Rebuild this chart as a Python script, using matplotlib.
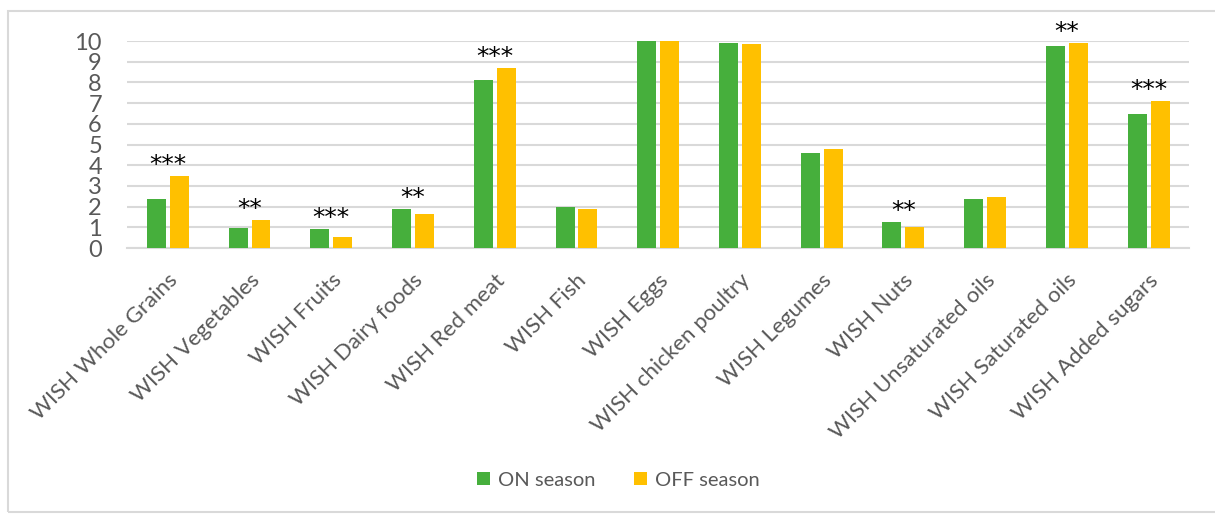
import numpy as np
import matplotlib.pyplot as plt
from matplotlib.patches import Rectangle

categories = ["WISH Whole Grains", "WISH Vegetables", "WISH Fruits", "WISH Dairy foods",
              "WISH Red meat", "WISH Fish", "WISH Eggs", "WISH chicken poultry",
              "WISH Legumes", "WISH Nuts", "WISH Unsaturated oils",
              "WISH Saturated oils", "WISH Added sugars"]
on_season = [2.38, 0.96, 0.93, 1.89, 8.14, 2.0, 9.98, 9.9, 4.57, 1.27, 2.39, 9.74, 6.48]
off_season = [3.48, 1.36, 0.51, 1.65, 8.72, 1.89, 9.98, 9.87, 4.78, 1.01, 2.46, 9.9, 7.08]
stars = ["***", "**", "***", "**", "***", "", "", "", "", "**", "", "**", "***"]

plt.rcParams['font.family'] = ['Lato', 'DejaVu Sans']

fig = plt.figure(figsize=(12.15, 5.14), dpi=100)
ax = fig.add_axes([0.1045, 0.5175, 0.8745, 0.4027])

x = np.arange(len(categories))
w = 0.232
off = 0.14
ax.bar(x - off, on_season, w, color="#46AF3C", label="ON season", zorder=3)
ax.bar(x + off, off_season, w, color="#FFC000", label="OFF season", zorder=3)

for i, s in enumerate(stars):
    if s:
        top = max(on_season[i], off_season[i])
        ax.text(x[i], top - 0.05, s, ha="center", va="bottom", fontsize=18,
                family="DejaVu Sans", color="black")

ax.set_xlim(-0.5, len(categories) - 0.5)
ax.set_ylim(0, 10)
ax.set_yticks(range(0, 11))
ax.grid(axis="y", color="#d9d9d9", linewidth=1.5, zorder=0)
for sp in ["top", "right", "left"]:
    ax.spines[sp].set_visible(False)
ax.spines["bottom"].set_color("#d9d9d9")
ax.spines["bottom"].set_linewidth(1.5)
ax.tick_params(axis="both", length=0, colors="#595959")
ax.tick_params(axis="y", labelsize=17, pad=18)
ax.tick_params(axis="x", pad=16)
ax.set_xticks(x)
ax.set_xticklabels(categories, rotation=45, ha="right", rotation_mode="anchor",
                   fontsize=16, color="#595959")

ax.legend(loc="center", bbox_to_anchor=(0.509, 0.066), bbox_transform=fig.transFigure,
          ncol=2, frameon=False, fontsize=14.5, labelcolor="#595959",
          handlelength=0.65, handleheight=0.65, columnspacing=1.9, handletextpad=0.4)

fig.patches.append(Rectangle((8 / 1215, 2 / 514), 1.2, 501 / 514, transform=fig.transFigure,
                             fill=False, edgecolor="#d9d9d9", linewidth=1.5))

fig.savefig("out.png", dpi=100)
